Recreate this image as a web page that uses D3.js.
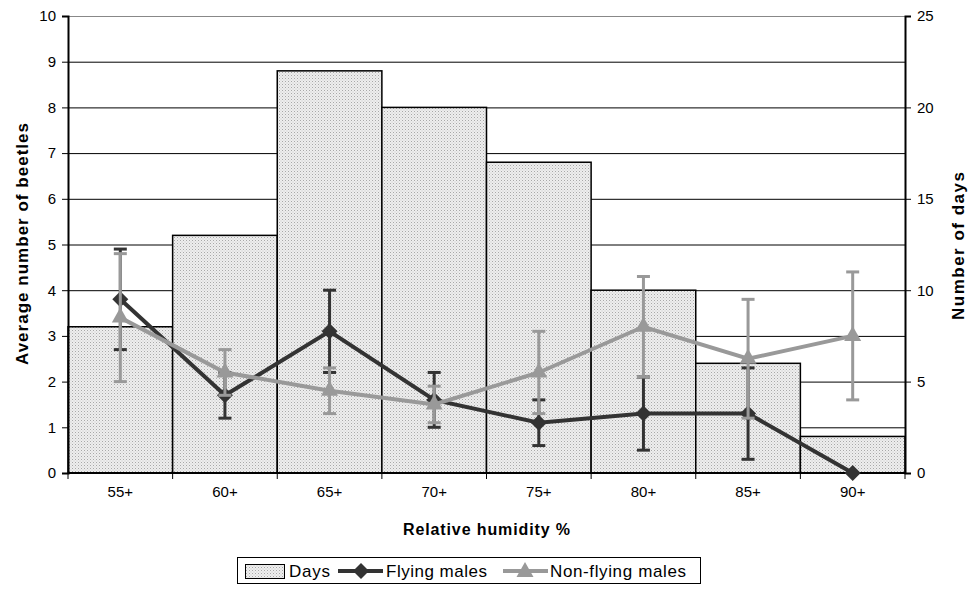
<!DOCTYPE html>
<html><head><meta charset="utf-8">
<script src="https://cdn.jsdelivr.net/npm/d3@7"></script>
<style>body{margin:0;background:#fff}svg{display:block;font-family:"Liberation Sans",Arial,sans-serif}</style>
</head><body><svg id="c" width="973" height="592"></svg>
<script>
const categories = ["55+","60+","65+","70+","75+","80+","85+","90+"];
const days = [8,13,22,20,17,10,6,2];
const flying = [3.8,1.7,3.1,1.6,1.1,1.3,1.3,0];
const flyingErr = [1.1,0.5,0.9,0.6,0.5,0.8,1.0,0];
const nonFlying = [3.4,2.2,1.8,1.5,2.2,3.2,2.5,3.0];
const nonFlyingErr = [1.4,0.5,0.5,0.4,0.9,1.1,1.3,1.4];
const leftTicks = [0,1,2,3,4,5,6,7,8,9,10];
const rightTicks = [0,5,10,15,20,25];

const svg = d3.select("#c");
const L=68,R=905,T=16,B=473;
const x = d3.scaleBand().domain(categories).range([L,R]).padding(0);
const y = d3.scaleLinear().domain([0,10]).range([B,T]);
const y2 = d3.scaleLinear().domain([0,25]).range([B,T]);

const defs = svg.append("defs");
const pat = defs.append("pattern").attr("id","dots").attr("width",3).attr("height",3).attr("patternUnits","userSpaceOnUse");
pat.append("rect").attr("width",3).attr("height",3).attr("fill","#eeeeee");
pat.append("rect").attr("width",1).attr("height",1).attr("fill","#a8a8a8");
pat.append("rect").attr("x",1.5).attr("y",1.5).attr("width",1).attr("height",1).attr("fill","#c8c8c8");

// gridlines
svg.append("g").selectAll("line").data(leftTicks.filter(d=>d>0)).join("line")
  .attr("x1",L).attr("x2",R).attr("y1",d=>y(d)+0.5).attr("y2",d=>y(d)+0.5)
  .attr("stroke",d=>d===10?"#888":"#000").attr("stroke-width",1);

// bars
svg.append("g").selectAll("rect").data(categories).join("rect")
  .attr("x",d=>x(d)).attr("width",x.bandwidth())
  .attr("y",(d,i)=>y2(days[i])).attr("height",(d,i)=>B-y2(days[i]))
  .attr("fill","url(#dots)").attr("stroke","#000").attr("stroke-width",1.5);

// axes
const gl = svg.append("g").attr("transform",`translate(${L},0)`)
  .call(d3.axisLeft(y).tickValues(leftTicks).tickSize(6).tickPadding(6));
const gr = svg.append("g").attr("transform",`translate(${R},0)`)
  .call(d3.axisRight(y2).tickValues(rightTicks).tickSize(6).tickPadding(6));
const gb = svg.append("g").attr("transform",`translate(0,${B})`)
  .call(d3.axisBottom(x).tickSize(0).tickPadding(13));
gb.selectAll(".tick line").remove();
gb.append("g").selectAll("line").data(d3.range(categories.length+1)).join("line")
  .attr("x1",i=>L+i*x.bandwidth()).attr("x2",i=>L+i*x.bandwidth()).attr("y1",0).attr("y2",6).attr("stroke","#000");
[gl,gr,gb].forEach(g=>{
  g.attr("font-size",null).attr("font-family",null);
  g.selectAll("text").style("font-size","15px").style("font-family","'Liberation Sans',Arial,sans-serif").attr("fill","#000");
  g.select(".domain").attr("stroke","#000").attr("stroke-width",2);
  g.selectAll(".tick line").attr("stroke","#000");
});
gb.select(".domain").attr("d",`M${L},0H${R}`);

// series
function drawSeries(vals, errs, color, marker){
  const g = svg.append("g");
  const cx = (d,i)=>x(categories[i])+x.bandwidth()/2;
  vals.forEach((v,i)=>{
    if(errs[i]<=0) return;
    const xx = cx(v,i);
    g.append("line").attr("x1",xx).attr("x2",xx).attr("y1",y(v+errs[i])).attr("y2",y(Math.max(0,v-errs[i]))).attr("stroke",color).attr("stroke-width",3);
    [v+errs[i], v-errs[i]].forEach(e=>{
      g.append("line").attr("x1",xx-6.5).attr("x2",xx+6.5).attr("y1",y(e)).attr("y2",y(e)).attr("stroke",color).attr("stroke-width",3);
    });
  });
  g.append("path").datum(vals).attr("fill","none").attr("stroke",color).attr("stroke-width",4)
    .attr("d",d3.line().x((d,i)=>cx(d,i)).y(d=>y(d)));
  g.selectAll("path.m").data(vals).join("path").attr("class","m")
    .attr("transform",(d,i)=>`translate(${cx(d,i)},${y(d)})`)
    .attr("d",marker).attr("fill",color);
}
const diamond = "M0,-8L8,0L0,8L-8,0Z";
const tri = "M0,-10L8.5,5L-8.5,5Z";
drawSeries(flying, flyingErr, "#333333", diamond);
drawSeries(nonFlying, nonFlyingErr, "#999999", tri);

// axis titles
svg.append("text").attr("x",403).attr("y",535).attr("font-size",16).attr("font-weight","bold")
  .attr("textLength",167).attr("lengthAdjust","spacing").text("Relative humidity %");
svg.append("text").attr("transform","translate(28,365) rotate(-90)").attr("font-size",17).attr("font-weight","bold")
  .attr("textLength",242).attr("lengthAdjust","spacing").text("Average number of beetles");
svg.append("text").attr("transform","translate(964,320) rotate(-90)").attr("font-size",17).attr("font-weight","bold")
  .attr("textLength",148).attr("lengthAdjust","spacing").text("Number of days");

// legend
const lg = svg.append("g");
lg.append("rect").attr("x",237.5).attr("y",557.5).attr("width",463).attr("height",26).attr("fill","#fff").attr("stroke","#000");
lg.append("rect").attr("x",245.5).attr("y",564.5).attr("width",39).attr("height",14).attr("fill","url(#dots)").attr("stroke","#000");
lg.append("text").attr("x",289).attr("y",577).attr("font-size",17).attr("textLength",41).attr("lengthAdjust","spacing").text("Days");
lg.append("line").attr("x1",338).attr("x2",383).attr("y1",571).attr("y2",571).attr("stroke","#333").attr("stroke-width",4);
lg.append("path").attr("transform","translate(361,571)").attr("d",diamond).attr("fill","#333");
lg.append("text").attr("x",386).attr("y",577).attr("font-size",17).attr("textLength",101).attr("lengthAdjust","spacing").text("Flying males");
lg.append("line").attr("x1",503).attr("x2",548).attr("y1",571).attr("y2",571).attr("stroke","#999").attr("stroke-width",4);
lg.append("path").attr("transform","translate(525,572)").attr("d",tri).attr("fill","#999");
lg.append("text").attr("x",550).attr("y",577).attr("font-size",17).attr("textLength",136).attr("lengthAdjust","spacing").text("Non-flying males");
</script></body></html>
